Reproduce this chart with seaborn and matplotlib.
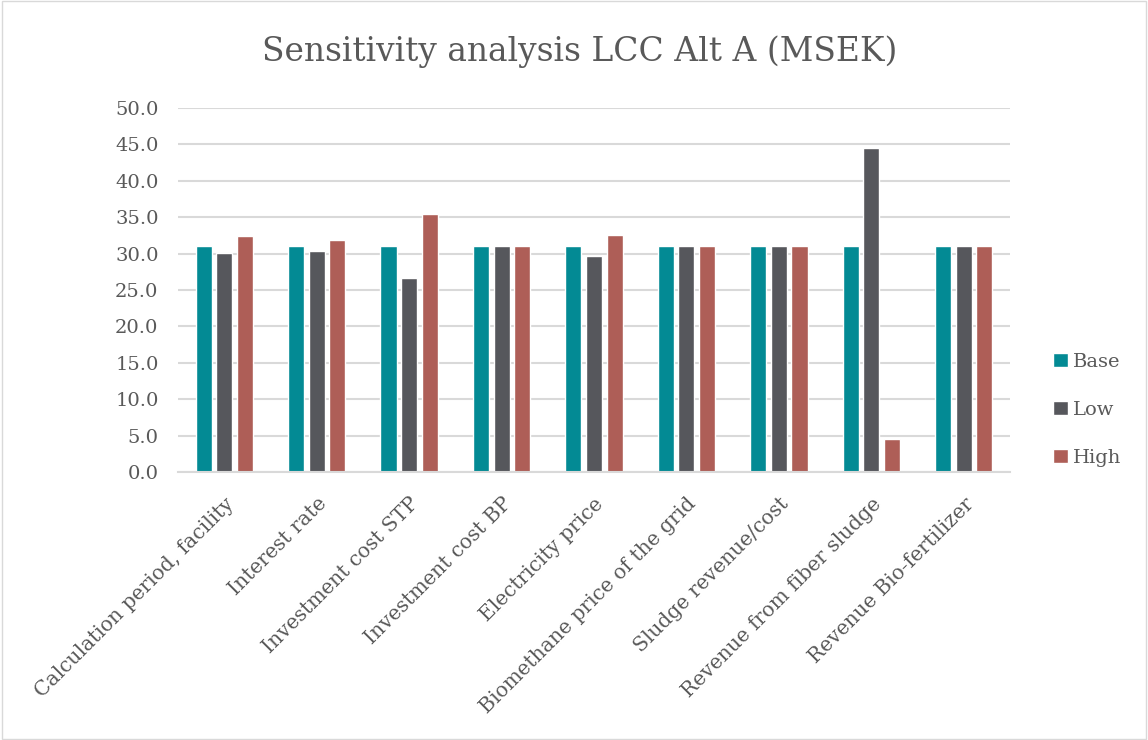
import numpy as np
import pandas as pd
import matplotlib.pyplot as plt
import seaborn as sns
from matplotlib.ticker import MultipleLocator, FormatStrFormatter

categories = ['Calculation period, facility', 'Interest rate', 'Investment cost STP',
              'Investment cost BP', 'Electricity price', 'Biomethane price of the grid',
              'Sludge revenue/cost', 'Revenue from fiber sludge', 'Revenue Bio-fertilizer']
base = [31.1, 31.1, 31.1, 31.1, 31.1, 31.1, 31.1, 31.1, 31.1]
low = [30.1, 30.3, 26.7, 31.1, 29.7, 31.1, 31.1, 44.5, 31.1]
high = [32.4, 31.8, 35.5, 31.1, 32.6, 31.1, 31.1, 4.5, 31.1]
series = ['Base', 'Low', 'High']
colors = ['#038A94', '#56575C', '#AE5E57']

df = pd.DataFrame({'category': categories * 3,
                   'value': base + low + high,
                   'series': [s for s in series for _ in categories]})

sns.set_style('white')
plt.rcParams['font.family'] = ['DejaVu Serif']
txt = '#595959'

fig = plt.figure(figsize=(11.48, 7.4), dpi=100)
ax = fig.add_axes([178 / 1148, 1 - 472 / 740, (1010 - 178) / 1148, (472 - 108) / 740])
sns.barplot(data=df, x='category', y='value', hue='series', palette=colors,
            saturation=1, width=0.67, gap=0.22, ax=ax, legend=True)

ax.set_ylim(0, 50)
ax.set_xlim(-0.5, len(categories) - 0.5)
ax.yaxis.set_major_locator(MultipleLocator(5))
ax.yaxis.set_major_formatter(FormatStrFormatter('%.1f'))
ax.grid(axis='y', color='#D9D9D9', linewidth=1.5)
ax.set_axisbelow(True)
for s in ['top', 'right', 'left']:
    ax.spines[s].set_visible(False)
ax.spines['bottom'].set_color('#D9D9D9')
ax.spines['bottom'].set_linewidth(1.5)
ax.tick_params(axis='both', length=0, colors=txt, labelsize=14)
ax.tick_params(axis='y', pad=14)
ax.tick_params(axis='x', pad=16)
ax.set_xlabel('')
ax.set_ylabel('')
ax.set_xticks(range(len(categories)))
ax.set_xticklabels(categories, rotation=45, ha='right', rotation_mode='anchor', color=txt, fontsize=14.6)

ax.legend(loc='center left', bbox_to_anchor=(1053 / 1148, 1 - 410 / 740),
          bbox_transform=fig.transFigure, frameon=False, fontsize=14,
          labelcolor=txt, handlelength=0.75, handleheight=0.75, handletextpad=0.3,
          labelspacing=1.55, borderaxespad=0, borderpad=0)

fig.suptitle('Sensitivity analysis LCC Alt A (MSEK)', x=580 / 1148, y=1 - 52 / 740,
             va='center', fontsize=23.7, color=txt)
fig.patches.append(plt.Rectangle((0.002, 0.002), 0.996, 0.996, transform=fig.transFigure,
                                 fill=False, edgecolor='#D9D9D9', linewidth=1))
fig.savefig('out.png', dpi=100)
